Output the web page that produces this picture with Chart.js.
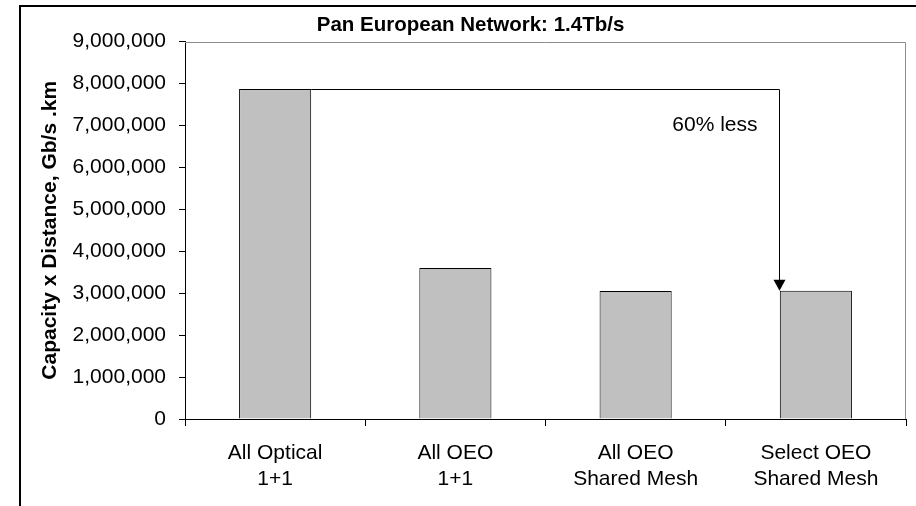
<!DOCTYPE html>
<html>
<head>
<meta charset="utf-8">
<script src="https://cdn.jsdelivr.net/npm/chart.js@4.4.1/dist/chart.umd.min.js"></script>
<style>
  html, body { margin: 0; padding: 0; background: #fff; overflow: hidden; width: 916px; height: 506px; }
  #frame {
    position: absolute; left: 19px; top: 5px;
    width: 899px; height: 530px;
    border: 2px solid #000;
  }
  canvas { display: block; }
</style>
</head>
<body>
<div id="frame">
  <canvas id="chart" width="899" height="499"></canvas>
</div>
<script>
// chart data
const categories = [
  ['All Optical', '1+1'],
  ['All OEO', '1+1'],
  ['All OEO', 'Shared Mesh'],
  ['Select OEO', 'Shared Mesh']
];
const capacityDistance = [7870000, 3600000, 3050000, 3060000];
const yTicks = [0, 1000000, 2000000, 3000000, 4000000, 5000000, 6000000, 7000000, 8000000, 9000000];

const chartTitle = 'Pan European Network: 1.4Tb/s';
const yTitle = 'Capacity x Distance, Gb/s .km';
const noteText = '60% less';
const noteValue = 7000000;

const FONT = "'Liberation Sans', Arial, sans-serif";

// gray frame on top and right of the plot area
const plotFrame = {
  id: 'plotFrame',
  beforeDatasetsDraw(chart) {
    const { ctx, chartArea } = chart;
    const t = Math.round(chartArea.top) + 0.5;
    const r = Math.round(chartArea.right) - 0.5;
    ctx.save();
    ctx.strokeStyle = '#8c8c8c';
    ctx.lineWidth = 1;
    ctx.beginPath();
    ctx.moveTo(chartArea.left, t);
    ctx.lineTo(r, t);
    ctx.lineTo(r, chartArea.bottom);
    ctx.stroke();
    ctx.restore();
  }
};

// bracket arrow from first bar to last bar
const reductionArrow = {
  id: 'reductionArrow',
  afterDatasetsDraw(chart) {
    const { ctx } = chart;
    const bars = chart.getDatasetMeta(0).data;
    const first = bars[0];
    const last = bars[bars.length - 1];
    const x0 = first.x + first.width / 2;
    const x1 = Math.round(last.x - last.width / 2) - 0.5;
    const yTop = Math.round(first.y) + 0.5;
    const yEnd = last.y;

    ctx.save();
    ctx.strokeStyle = '#000';
    ctx.lineWidth = 1;
    ctx.beginPath();
    ctx.moveTo(x0, yTop);
    ctx.lineTo(x1, yTop);
    ctx.lineTo(x1, yEnd - 9);
    ctx.stroke();

    ctx.fillStyle = '#000';
    ctx.beginPath();
    ctx.moveTo(x1, yEnd);
    ctx.lineTo(x1 - 6, yEnd - 11);
    ctx.lineTo(x1 + 6, yEnd - 11);
    ctx.closePath();
    ctx.fill();

    ctx.font = '21px ' + FONT;
    ctx.textAlign = 'right';
    ctx.textBaseline = 'middle';
    ctx.fillText(noteText, x1 - 22, chart.scales.y.getPixelForValue(noteValue));
    ctx.restore();
  }
};

new Chart(document.getElementById('chart'), {
  type: 'bar',
  data: {
    labels: categories,
    datasets: [{
      data: capacityDistance,
      backgroundColor: '#c0c0c0',
      borderColor: '#000',
      borderWidth: 1,
      categoryPercentage: 1,
      barPercentage: 0.4
    }]
  },
  options: {
    responsive: false,
    animation: false,
    layout: { padding: { top: 0, right: 14, bottom: 0, left: 14 } },
    plugins: {
      legend: { display: false },
      tooltip: { enabled: false },
      title: {
        display: true,
        text: chartTitle,
        color: '#000',
        font: { family: FONT, size: 20.5, weight: 'bold' },
        padding: { top: 6, bottom: 4 }
      }
    },
    scales: {
      x: {
        afterFit(scale) { scale.height = 87; },
        grid: {
          display: true,
          offset: true,
          drawOnChartArea: false,
          drawTicks: true,
          tickLength: 7,
          color: '#000'
        },
        border: { display: true, color: '#000', width: 1 },
        ticks: {
          color: '#000',
          padding: 15,
          maxRotation: 0,
          font: { family: FONT, size: 21 }
        }
      },
      y: {
        min: 0,
        max: 9000000,
        afterFit(scale) { scale.width = 150; },
        afterBuildTicks(scale) { scale.ticks = yTicks.map(v => ({ value: v })); },
        grid: {
          display: true,
          drawOnChartArea: false,
          drawTicks: true,
          tickLength: 6,
          color: '#000'
        },
        border: { display: true, color: '#000', width: 1 },
        ticks: {
          color: '#000',
          padding: 13,
          font: { family: FONT, size: 21 },
          callback: v => v.toLocaleString('en-US')
        },
        title: {
          display: true,
          text: yTitle,
          color: '#000',
          font: { family: FONT, size: 21, weight: 'bold' },
          padding: { top: 3, bottom: 0 }
        }
      }
    }
  },
  plugins: [plotFrame, reductionArrow]
});
</script>
</body>
</html>
